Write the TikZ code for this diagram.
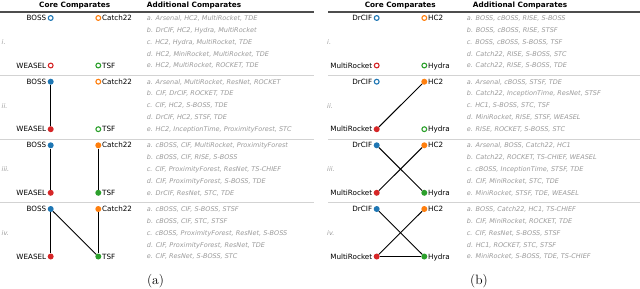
\documentclass[tikz,border=0pt]{standalone}
\usepackage{fontspec}
\newfontfamily\dv{DejaVu Sans}
\definecolor{cblue}{HTML}{1F77B4}
\definecolor{corange}{HTML}{FF7F0E}
\definecolor{cred}{HTML}{D62728}
\definecolor{cgreen}{HTML}{2CA02C}
\definecolor{lgrey}{HTML}{9A9A9A}
\definecolor{rulegrey}{HTML}{4D4D4D}
\definecolor{sepgrey}{HTML}{D3D3D3}
\tikzset{
  ringm/.style={circle, draw=#1, line width=1.1pt, fill=white, inner sep=0pt, minimum size=4.8pt},
  dotm/.style={circle, fill=#1, inner sep=0pt, minimum size=6pt},
  corelab/.style={inner sep=0pt, font=\dv\fontsize{7.2}{8}\selectfont, text height=5.25pt, text depth=0pt},
  lst/.style={anchor=west, inner sep=0pt, text=lgrey, font=\dv\itshape\fontsize{6.5}{7}\selectfont, text height=4.75pt, text depth=0pt},
  romanlab/.style={anchor=west, inner sep=0pt, text=lgrey, font=\dv\itshape\fontsize{6.5}{7}\selectfont, text height=4.75pt, text depth=0pt},
  hdr/.style={inner sep=0pt, font=\dv\bfseries\fontsize{7.3}{8}\selectfont, text height=5.3pt, text depth=0pt},
  edge/.style={line width=1pt, black},
  toprule/.style={line width=1.3pt, rulegrey},
  seprule/.style={line width=0.8pt, sepgrey},
  captxt/.style={inner sep=0pt, anchor=base, font=\fontsize{13.5}{15}\selectfont}
}
% #1 prefix, #2 row, #3 y, #4 xl, #5 xr, #6-#9 marker styles
\newcommand\corequad[9]{%
  \node[#6=cblue] (#1#2TL) at (#4,#3) {};
  \node[#7=corange] (#1#2TR) at (#5,#3) {};
  \node[#8=cred] (#1#2BL) at (#4,#3+47.5) {};
  \node[#9=cgreen] (#1#2BR) at (#5,#3+47.5) {};
  \node[corelab, anchor=east] (#1#2TLt) at ([xshift=-4.3pt]#1#2TL.center) {\labA};
  \node[corelab, anchor=west] (#1#2TRt) at ([xshift=3.6pt]#1#2TR.center) {\labB};
  \node[corelab, anchor=east] (#1#2BLt) at ([xshift=-4.3pt]#1#2BL.center) {\labC};
  \node[corelab, anchor=west] (#1#2BRt) at ([xshift=3.6pt]#1#2BR.center) {\labD};
}
% #1 name, #2 x, #3 y, #4-#8 lines
\newcommand\addlist[8]{%
  \node[lst] (#1a) at (#2,#3) {a. #4};
  \node[lst] (#1b) at (#2,#3+11.875) {b. #5};
  \node[lst] (#1c) at (#2,#3+23.75) {c. #6};
  \node[lst] (#1d) at (#2,#3+35.625) {d. #7};
  \node[lst] (#1e) at (#2,#3+47.5) {e. #8};
}
\begin{document}
\begin{tikzpicture}[x=1pt,y=-1pt]
\fill[white] (0,0) rectangle (640,289);
\useasboundingbox (0,0) rectangle (640,289);
% ---------- headers and rules
\node[hdr] (ha1) at (74.7,5.3) {Core Comparates};
\node[hdr, anchor=west] (ha2) at (146.7,5.3) {Additional Comparates};
\node[hdr] (hb1) at (400.3,5.3) {Core Comparates};
\node[hdr, anchor=west] (hb2) at (472.7,5.3) {Additional Comparates};
\coordinate (ra0) at (0,12); \coordinate (ra1) at (314,12);
\coordinate (rb0) at (328,12); \coordinate (rb1) at (640,12);
\draw[toprule] (ra0) -- (ra1);
\draw[toprule] (rb0) -- (rb1);
\foreach \s/\y in {1/75.7,2/139.2,3/202.6}{
  \coordinate (sa\s0) at (0,\y); \coordinate (sa\s1) at (314,\y);
  \coordinate (sb\s0) at (328,\y); \coordinate (sb\s1) at (640,\y);
  \draw[seprule] (sa\s0) -- (sa\s1);
  \draw[seprule] (sb\s0) -- (sb\s1);
}
% ---------- roman numerals
\foreach \r/\t/\y in {1/i./42.2,2/ii./105.9,3/iii./169.5,4/iv./233.1}{
  \node[romanlab] (rna\r) at (1.5,\y) {\t};
  \node[romanlab] (rnb\r) at (327,\y) {\t};
}
% ---------- panel (a) core
\def\labA{BOSS}\def\labB{Catch22}\def\labC{WEASEL}\def\labD{TSF}
\corequad{a}{1}{18}{50.7}{98.3}{ringm}{ringm}{ringm}{ringm}
\corequad{a}{2}{81.7}{50.7}{98.3}{dotm}{ringm}{dotm}{ringm}
\corequad{a}{3}{145.3}{50.7}{98.3}{dotm}{dotm}{dotm}{dotm}
\corequad{a}{4}{209}{50.7}{98.3}{dotm}{dotm}{dotm}{dotm}
\draw[edge] (a2TL) -- (a2BL);
\draw[edge] (a3TL) -- (a3BL);
\draw[edge] (a3TR) -- (a3BR);
\draw[edge] (a4TL) -- (a4BL);
\draw[edge] (a4TR) -- (a4BR);
\draw[edge] (a4TL) -- (a4BR);
% ---------- panel (b) core
\def\labA{DrCIF}\def\labB{HC2}\def\labC{MultiRocket}\def\labD{Hydra}
\corequad{b}{1}{18}{376.7}{424.3}{ringm}{ringm}{ringm}{ringm}
\corequad{b}{2}{81.7}{376.7}{424.3}{ringm}{dotm}{dotm}{ringm}
\corequad{b}{3}{145.3}{376.7}{424.3}{dotm}{dotm}{dotm}{dotm}
\corequad{b}{4}{209}{376.7}{424.3}{dotm}{dotm}{dotm}{dotm}
\draw[edge] (b2TR) -- (b2BL);
\draw[edge] (b3TR) -- (b3BL);
\draw[edge] (b3TL) -- (b3BR);
\draw[edge] (b4TR) -- (b4BL);
\draw[edge] (b4TL) -- (b4BR);
\draw[edge] (b4BL) -- (b4BR);
% ---------- lists (a)
\addlist{la1}{146.7}{18}{Arsenal, HC2, MultiRocket, TDE}{DrCIF, HC2, Hydra, MultiRocket}{HC2, Hydra, MultiRocket, TDE}{HC2, MiniRocket, MultiRocket, TDE}{HC2, MultiRocket, ROCKET, TDE}
\addlist{la2}{146.7}{81.7}{Arsenal, MultiRocket, ResNet, ROCKET}{CIF, DrCIF, ROCKET, TDE}{CIF, HC2, S-BOSS, TDE}{DrCIF, HC2, STSF, TDE}{HC2, InceptionTime, ProximityForest, STC}
\addlist{la3}{146.7}{145.3}{cBOSS, CIF, MultiRocket, ProximityForest}{cBOSS, CIF, RISE, S-BOSS}{CIF, ProximityForest, ResNet, TS-CHIEF}{CIF, ProximityForest, S-BOSS, TDE}{DrCIF, ResNet, STC, TDE}
\addlist{la4}{146.7}{209}{cBOSS, CIF, S-BOSS, STSF}{cBOSS, CIF, STC, STSF}{cBOSS, ProximityForest, ResNet, S-BOSS}{CIF, ProximityForest, ResNet, TDE}{CIF, ResNet, S-BOSS, STC}
% ---------- lists (b)
\addlist{lb1}{466.7}{18}{BOSS, cBOSS, RISE, S-BOSS}{BOSS, cBOSS, RISE, STSF}{BOSS, cBOSS, S-BOSS, TSF}{Catch22, RISE, S-BOSS, STC}{Catch22, RISE, S-BOSS, TDE}
\addlist{lb2}{466.7}{81.7}{Arsenal, cBOSS, STSF, TDE}{Catch22, InceptionTime, ResNet, STSF}{HC1, S-BOSS, STC, TSF}{MiniRocket, RISE, STSF, WEASEL}{RISE, ROCKET, S-BOSS, STC}
\addlist{lb3}{466.7}{145.3}{Arsenal, BOSS, Catch22, HC1}{Catch22, ROCKET, TS-CHIEF, WEASEL}{cBOSS, InceptionTime, STSF, TDE}{CIF, MiniRocket, STC, TDE}{MiniRocket, STSF, TDE, WEASEL}
\addlist{lb4}{466.7}{209}{BOSS, Catch22, HC1, TS-CHIEF}{CIF, MiniRocket, ROCKET, TDE}{CIF, ResNet, S-BOSS, STSF}{HC1, ROCKET, STC, STSF}{MiniRocket, S-BOSS, TDE, TS-CHIEF}
% ---------- captions
\node[captxt] (capa) at (155.5,284.5) {(a)};
\node[captxt] (capb) at (479,284.5) {(b)};
\end{tikzpicture}
\end{document}
